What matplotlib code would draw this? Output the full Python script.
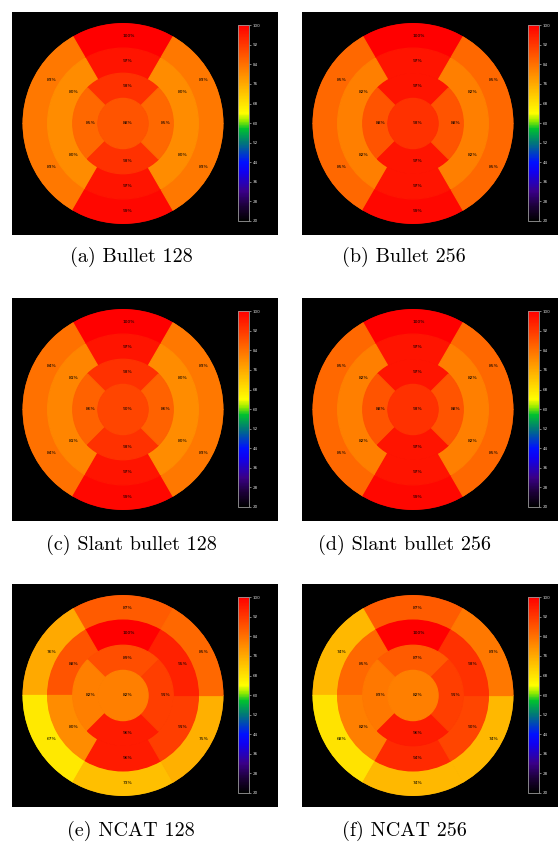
import numpy as np
import matplotlib
matplotlib.use("Agg")
import matplotlib.pyplot as plt
from matplotlib.colors import LinearSegmentedColormap, Normalize
from matplotlib.cm import ScalarMappable

# ---------------- data ----------------
captions = ["(a) Bullet 128", "(b) Bullet 256",
            "(c) Slant bullet 128", "(d) Slant bullet 256",
            "(e) NCAT 128", "(f) NCAT 256"]

# outer / mid rings: [top, upper-left, lower-left, bottom, lower-right, upper-right]
# inner ring: [top, left, bottom, right]
outer_a = [100, 83, 83, 99, 83, 83]
mid_a = [97, 80, 80, 97, 80, 80]
inner_a = [93, 85, 93, 85]
center_a = 88

outer_b = [100, 85, 85, 99, 85, 85]
mid_b = [97, 82, 82, 97, 82, 82]
inner_b = [97, 88, 97, 88]
center_b = 93

outer_c = [100, 84, 84, 99, 83, 83]
mid_c = [97, 81, 81, 97, 80, 80]
inner_c = [93, 86, 93, 86]
center_c = 90

outer_d = [100, 85, 85, 99, 85, 85]
mid_d = [97, 82, 82, 97, 82, 82]
inner_d = [97, 88, 97, 88]
center_d = 93

outer_e = [87, 76, 67, 73, 75, 85]
mid_e = [100, 88, 80, 96, 91, 95]
inner_e = [89, 82, 96, 91]
center_e = 82

outer_f = [87, 74, 68, 74, 74, 83]
mid_f = [100, 85, 82, 94, 90, 93]
inner_f = [87, 83, 96, 91]
center_f = 82

cbar_ticks = list(range(20, 101, 8))
vmin, vmax = 20, 100

panels = [
    (outer_a, mid_a, inner_a, center_a),
    (outer_b, mid_b, inner_b, center_b),
    (outer_c, mid_c, inner_c, center_c),
    (outer_d, mid_d, inner_d, center_d),
    (outer_e, mid_e, inner_e, center_e),
    (outer_f, mid_f, inner_f, center_f),
]

# ---------------- style ----------------
cmap = LinearSegmentedColormap.from_list("bullseye", [
    (0.000, "#000000"),
    (0.075, "#1c0038"),
    (0.150, "#3a0088"),
    (0.250, "#1000f0"),
    (0.300, "#0010ff"),
    (0.400, "#007878"),
    (0.470, "#00c030"),
    (0.510, "#90ea00"),
    (0.550, "#ffff00"),
    (1.000, "#ff0000"),
])
norm = Normalize(vmin=vmin, vmax=vmax)

W, H = 558, 843
fig = plt.figure(figsize=(W / 100, H / 100), dpi=100)


def fbox(x0, y0, w, h):
    return [x0 / W, 1 - (y0 + h) / H, w / W, h / H]


six_starts = [60, 120, 180, 240, 300, 0]
four_starts = [45, 135, 225, 315]

col_x = [12, 302]
row_y = [12, 298, 584]
cap_x = [131, 404]
cap_y = [257, 545, 831]
R = 100.5
LFS = 3.2

for i, (outer, mid, inner, center) in enumerate(panels):
    r_, c_ = divmod(i, 2)
    x0, y0 = col_x[c_], row_y[r_]
    bg = fig.add_axes(fbox(x0, y0, 266, 223))
    bg.set_facecolor("black")
    bg.set_xticks([]); bg.set_yticks([])
    for s in bg.spines.values():
        s.set_visible(False)

    cx, cy = x0 + 111, y0 + 111.5
    ax = fig.add_axes(fbox(cx - R, cy - R, 2 * R, 2 * R), projection="polar")
    ax.set_facecolor("none")
    ax.set_ylim(0, 4)
    ax.axis("off")

    labels = []

    def ring(vals, starts, span, r0):
        for v, st in zip(vals, starts):
            th = np.deg2rad(st + span / 2)
            col = cmap(norm(v))
            ax.bar(th, 1, width=np.deg2rad(span), bottom=r0, color=col,
                   edgecolor=col, linewidth=0.9, align="center", zorder=1)
            labels.append((th, r0 + 0.5, v))

    ring(outer, six_starts, 60, 3)
    ring(mid, six_starts, 60, 2)
    ring(inner, four_starts, 90, 1)
    col = cmap(norm(center))
    ax.bar(0, 1, width=2 * np.pi, bottom=0, color=col, edgecolor=col,
           linewidth=0.9, zorder=1)
    labels.append((0, 0, center))
    for th, rr, v in labels:
        ax.text(th, rr, f"{v}%", ha="left", va="center", fontsize=LFS,
                color="black", zorder=3)

    cax = fig.add_axes(fbox(cx + 114.5, cy - 98.3, 11.5, 195.8))
    cb = fig.colorbar(ScalarMappable(norm=norm, cmap=cmap), cax=cax, ticks=cbar_ticks)
    cb.outline.set_edgecolor("#9a9a9a")
    cb.outline.set_linewidth(0.6)
    cax.tick_params(colors="#dddddd", labelsize=3.0, length=1.5, width=0.4, pad=1)
    for t in cax.get_yticklabels():
        t.set_color("#dddddd")

    fig.text(cap_x[c_] / W, 1 - cap_y[r_] / H, captions[i], ha="center", va="center",
             fontsize=14.5, family="cmr10")

fig.savefig("out.png", dpi=100, facecolor="white")
